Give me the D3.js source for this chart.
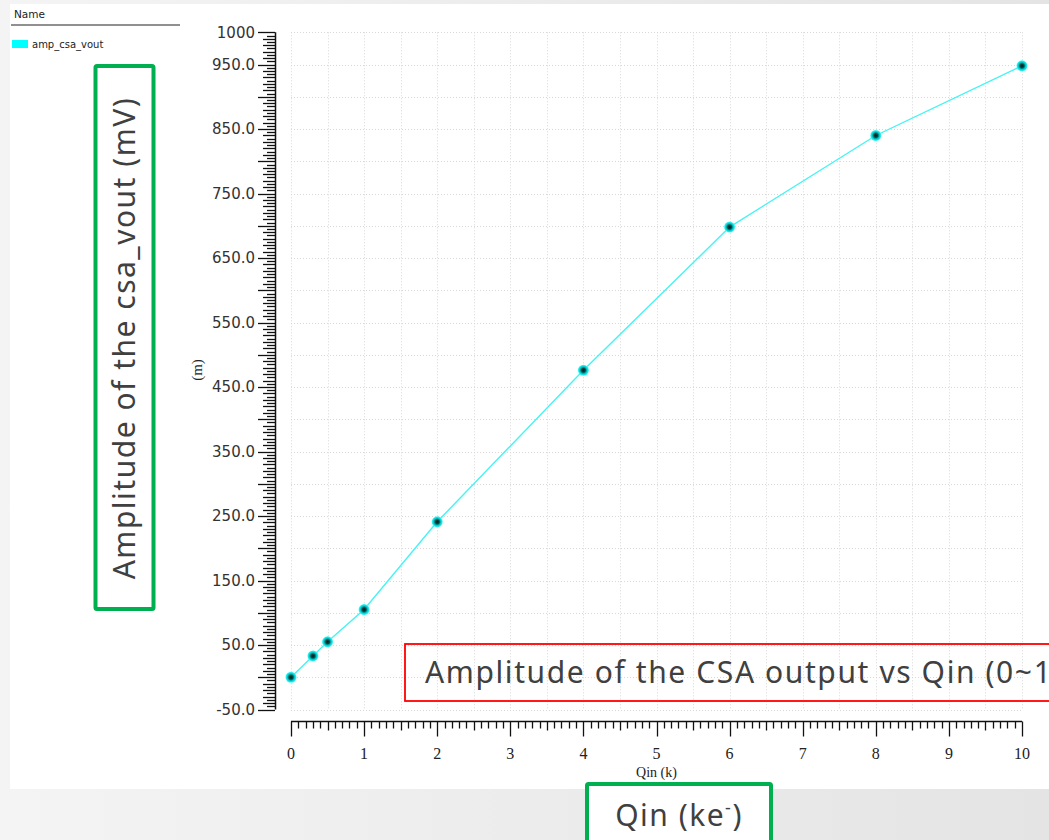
<!DOCTYPE html>
<html>
<head>
<meta charset="utf-8">
<script src="https://cdn.jsdelivr.net/npm/d3@7"></script>
<style>
  body { margin: 0; overflow: hidden; background: #f3f3f3; }
</style>
</head>
<body>
<div id="chart"></div>
<script>
// data
var qin = [0, 0.3, 0.5, 1, 2, 4, 6, 8, 10];
var ampVout = [0, 33, 55, 105, 241, 476, 698, 840, 948];
var seriesName = "amp_csa_vout";
var xTickValues = [0, 1, 2, 3, 4, 5, 6, 7, 8, 9, 10];
var yTickValues = [-50, 50, 150, 250, 350, 450, 550, 650, 750, 850, 950, 1000];

var W = 1049, H = 840;

var svg = d3.select("#chart")
    .append("svg")
    .attr("width", W)
    .attr("height", H)
    .style("font-family", "'DejaVu Sans', sans-serif");

// slide background + white screenshot panel
var grad = svg.append("defs").append("linearGradient")
    .attr("id", "bg").attr("x1", 0).attr("x2", 1).attr("y1", 0).attr("y2", 0);
grad.append("stop").attr("offset", "0%").attr("stop-color", "#f4f4f4");
grad.append("stop").attr("offset", "100%").attr("stop-color", "#e4e4e4");
svg.append("rect").attr("width", W).attr("height", H).attr("fill", "url(#bg)");
svg.append("rect")
    .attr("x", 10).attr("y", 4)
    .attr("width", W - 10).attr("height", 785)
    .attr("fill", "#fff");

// scales
var x = d3.scaleLinear().domain([0, 10]).range([291, 1022]);
var y = d3.scaleLinear().domain([-50, 1000]).range([709.5, 32.3]);

// grid (light dotted)
var grid = svg.append("g")
    .attr("stroke", "#d8d8d8")
    .attr("stroke-dasharray", "1,2")
    .attr("stroke-width", 1);
grid.selectAll("line.h")
    .data(d3.range(-50, 1001, 50))
    .enter().append("line")
    .attr("x1", x(0)).attr("x2", x(10))
    .attr("y1", function(d) { return Math.round(y(d)) + 0.5; })
    .attr("y2", function(d) { return Math.round(y(d)) + 0.5; });
grid.selectAll("line.v")
    .data(d3.range(0, 10.01, 0.5))
    .enter().append("line")
    .attr("y1", y(1000)).attr("y2", y(-50))
    .attr("x1", function(d) { return Math.round(x(d)) + 0.5; })
    .attr("x2", function(d) { return Math.round(x(d)) + 0.5; });

// y axis
var yAxisX = 275;
var ya = svg.append("g").attr("stroke", "#111");
ya.append("line")
    .attr("x1", yAxisX + 0.5).attr("x2", yAxisX + 0.5)
    .attr("y1", y(1000)).attr("y2", y(-50))
    .attr("stroke-width", 1.5);
ya.selectAll("line.t")
    .data(d3.range(-50, 1001, 5))
    .enter().append("line")
    .attr("y1", function(d) { return Math.round(y(d)) + 0.5; })
    .attr("y2", function(d) { return Math.round(y(d)) + 0.5; })
    .attr("x2", yAxisX)
    .attr("x1", function(d) {
        if ((d + 50) % 50 === 0) return yAxisX - 17;
        if (d % 10 === 0) return yAxisX - 12;
        return yAxisX - 8;
    })
    .attr("stroke-width", 1.3);
svg.append("g").selectAll("text")
    .data(yTickValues)
    .enter().append("text")
    .attr("x", 255)
    .attr("y", function(d) { return y(d); })
    .attr("dy", "0.35em")
    .attr("text-anchor", "end")
    .attr("font-size", 15)
    .attr("fill", "#333")
    .text(function(d) { return d === 1000 ? "1000" : d.toFixed(1); });

svg.append("text")
    .attr("transform", "translate(202,370) rotate(-90)")
    .attr("text-anchor", "middle")
    .attr("font-family", "'Liberation Serif', serif")
    .attr("font-size", 15)
    .attr("fill", "#222")
    .text("(m)");

// x axis
var xAxisY = 721.5;
var xa = svg.append("g").attr("stroke", "#111");
xa.append("line")
    .attr("x1", x(0)).attr("x2", x(10))
    .attr("y1", xAxisY).attr("y2", xAxisY)
    .attr("stroke-width", 1.5);
xa.selectAll("line.t")
    .data(d3.range(0, 100.5, 1))
    .enter().append("line")
    .attr("x1", function(d) { return Math.round(x(d / 10)) + 0.5; })
    .attr("x2", function(d) { return Math.round(x(d / 10)) + 0.5; })
    .attr("y1", xAxisY)
    .attr("y2", function(d) {
        if (d % 10 === 0) return xAxisY + 15;
        if (d % 5 === 0) return xAxisY + 9;
        return xAxisY + 7;
    })
    .attr("stroke-width", 1.3);
svg.append("g").selectAll("text")
    .data(xTickValues)
    .enter().append("text")
    .attr("x", function(d) { return x(d); })
    .attr("y", 759)
    .attr("text-anchor", "middle")
    .attr("font-family", "'Liberation Serif', serif")
    .attr("font-size", 16)
    .attr("fill", "#222")
    .text(function(d) { return d; });
svg.append("text")
    .attr("x", x(5)).attr("y", 777)
    .attr("text-anchor", "middle")
    .attr("font-family", "'Liberation Serif', serif")
    .attr("font-size", 14)
    .attr("fill", "#222")
    .text("Qin (k)");

// series
var pts = qin.map(function(d, i) { return [d, ampVout[i]]; });
svg.append("path")
    .datum(pts)
    .attr("fill", "none")
    .attr("stroke", "#44f4f4")
    .attr("stroke-width", 1.4)
    .attr("d", d3.line()
        .x(function(d) { return x(d[0]); })
        .y(function(d) { return y(d[1]); }));

var rg = svg.select("defs").append("radialGradient").attr("id", "dot");
rg.append("stop").attr("offset", "0%").attr("stop-color", "#001a1a");
rg.append("stop").attr("offset", "35%").attr("stop-color", "#004848");
rg.append("stop").attr("offset", "65%").attr("stop-color", "#00c8c8");
rg.append("stop").attr("offset", "100%").attr("stop-color", "#40ffff");
svg.append("g").selectAll("circle")
    .data(pts)
    .enter().append("circle")
    .attr("cx", function(d) { return x(d[0]); })
    .attr("cy", function(d) { return y(d[1]); })
    .attr("r", 5.5)
    .attr("fill", "url(#dot)");

// legend panel
svg.append("text")
    .attr("x", 14).attr("y", 18)
    .attr("font-size", 10.5)
    .attr("fill", "#222")
    .text("Name");
svg.append("line")
    .attr("x1", 11).attr("x2", 180)
    .attr("y1", 25).attr("y2", 25)
    .attr("stroke", "#222").attr("stroke-width", 1.2);
svg.append("rect")
    .attr("x", 12).attr("y", 40)
    .attr("width", 16).attr("height", 8)
    .attr("fill", "#00ffff");
svg.append("text")
    .attr("x", 32).attr("y", 48)
    .attr("font-size", 10)
    .attr("fill", "#222")
    .text(seriesName);

// slide annotations
var annFont = "'Noto Sans', 'Open Sans', sans-serif";
svg.append("rect")
    .attr("x", 95.5).attr("y", 66)
    .attr("width", 58).attr("height", 543)
    .attr("fill", "#fff")
    .attr("stroke", "#00b050").attr("stroke-width", 4).attr("rx", 1.5);
svg.append("text")
    .attr("transform", "translate(135,338) rotate(-90)")
    .attr("text-anchor", "middle")
    .attr("font-family", annFont)
    .attr("font-size", 30)
    .attr("letter-spacing", 1.5)
    .attr("fill", "#404040")
    .text("Amplitude of the csa_vout (mV)");

svg.append("rect")
    .attr("x", 405).attr("y", 644)
    .attr("width", 700).attr("height", 57)
    .attr("fill", "none")
    .attr("stroke", "#ff0000").attr("stroke-width", 1.8);
svg.append("text")
    .attr("x", 425).attr("y", 683)
    .attr("font-family", annFont)
    .attr("font-size", 30)
    .attr("letter-spacing", 1.6)
    .attr("fill", "#404040")
    .text("Amplitude of the CSA output vs Qin (0~10 ke-)");

svg.append("rect")
    .attr("x", 587).attr("y", 784)
    .attr("width", 184).attr("height", 80)
    .attr("fill", "#fff")
    .attr("stroke", "#00b050").attr("stroke-width", 4).attr("rx", 1.5);
var q = svg.append("text")
    .attr("x", 679).attr("y", 826)
    .attr("text-anchor", "middle")
    .attr("font-family", annFont)
    .attr("font-size", 30)
    .attr("letter-spacing", 1.5)
    .attr("fill", "#404040");
q.append("tspan").text("Qin (ke");
q.append("tspan").attr("dy", -12).attr("font-size", 18).text("-");
q.append("tspan").attr("dy", 12).text(")");
</script>
</body>
</html>
